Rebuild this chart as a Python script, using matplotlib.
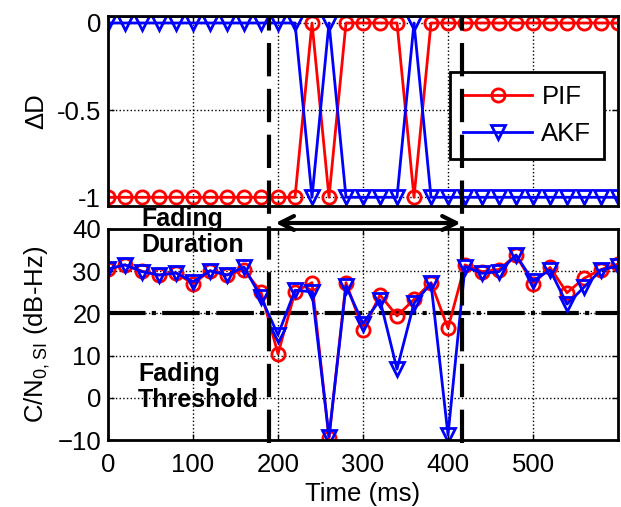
import matplotlib.pyplot as plt
import matplotlib.lines as mlines
from matplotlib.transforms import blended_transform_factory

plt.rcParams['font.family'] = ['Liberation Sans', 'DejaVu Sans']
plt.rcParams['font.size'] = 18.5

# time axis (ms)
t = list(range(0, 601, 20))

# delta D
dd_pif = [-1]*12 + [0, -1, 0, 0, 0, 0, -1] + [0]*12
dd_akf = [0]*12 + [-1, 0, -1, -1, -1, -1, 0] + [-1]*12

# C/N0 (dB-Hz)
cn_pif = [30.5, 31.5, 30.0, 29.1, 29.6, 27.0, 30.1, 29.1, 30.3, 25.1,
          10.4, 25.1, 27.3, -9.6, 27.3, 16.1, 24.4, 19.4, 23.3, 27.3,
          16.5, 31.5, 29.9, 30.4, 33.8, 27.0, 30.9, 24.9, 28.3, 30.4, 31.7]
cn_akf = [30.5, 31.5, 29.9, 29.1, 29.6, 27.5, 30.1, 29.1, 31.0, 23.8,
          14.9, 25.5, 25.1, -9.2, 26.5, 17.6, 23.2, 6.8, 22.4, 27.1,
          -8.8, 31.1, 29.5, 29.9, 33.8, 27.7, 30.3, 22.2, 26.2, 30.3, 31.2]

threshold = 20
fade_start, fade_end = 189, 417

W, H = 621, 507
fig = plt.figure(figsize=(W/100, H/100), dpi=100)
ax1 = fig.add_axes([108/W, 1-206/H, 510/W, 190/H])
ax2 = fig.add_axes([108/W, 1-440/H, 510/W, 211/H])

style = dict(lw=2, mew=2, mfc='none')
ax1.plot(t, dd_pif, color='red', marker='o', ms=9.5, label='PIF', **style)
ax1.plot(t, dd_akf, color='blue', marker='v', ms=10.5, label='AKF', **style)
ax2.plot(t, cn_pif, color='red', marker='o', ms=9.5, **style)
ax2.plot(t, cn_akf, color='blue', marker='v', ms=10.5, **style)

ax2.axhline(threshold, color='black', lw=3, dashes=[9, 1.5, 1, 1.5], zorder=1)

for ax in (ax1, ax2):
    ax.set_xlim(0, 600)
    ax.set_xticks(range(0, 501, 100))
    ax.grid(True, color='black', linestyle=':', lw=1)
    ax.tick_params(direction='in', top=True, right=True, width=1, length=4, pad=5)
    for s in ax.spines.values():
        s.set_linewidth(2)

ax1.set_ylim(-1.05, 0.04)
ax1.set_yticks([-1, -0.5, 0])
ax1.set_yticklabels(['-1', '-0.5', '0'])
ax1.tick_params(labelbottom=False)
ax1.set_ylabel('ΔD', labelpad=6)

ax2.set_ylim(-10, 40)
ax2.set_yticks(range(-10, 41, 10))
ax2.tick_params(axis='x', pad=9)
ax2.set_ylabel(r'C/N$\mathregular{_{0,SI}}$ (dB-Hz)', labelpad=4)
ax2.set_xlabel('Time (ms)', labelpad=4)

leg = ax1.legend(loc='upper right', bbox_to_anchor=(0.973, 0.705), borderaxespad=0,
                 fancybox=False, edgecolor='black', framealpha=1,
                 handlelength=2.7, handletextpad=0.35, borderpad=0.5,
                 labelspacing=0.5)
leg.get_frame().set_linewidth(2)

# fading duration lines across both axes
trans = blended_transform_factory(ax2.transData, fig.transFigure)
for xv in (fade_start, fade_end):
    fig.add_artist(mlines.Line2D([xv, xv], [1-443/H, 1-17/H], transform=trans,
                                 color='black', lw=3, dashes=[8, 3]))

ax2.annotate('', xy=(fade_start + 8, 1-223/H), xytext=(fade_end - 2, 1-223/H),
             xycoords=trans, textcoords=trans,
             arrowprops=dict(arrowstyle='<->', lw=3, color='black',
                             mutation_scale=25, shrinkA=0, shrinkB=0))

fig.text(141/W, 1-232/H, 'Fading\nDuration', ha='left', va='center',
         fontweight='bold', fontsize=18, linespacing=1.15)
fig.text(138/W, 1-387/H, 'Fading\nThreshold', ha='left', va='center',
         fontweight='bold', fontsize=18, linespacing=1.1)

plt.savefig('out.png', dpi=100)
